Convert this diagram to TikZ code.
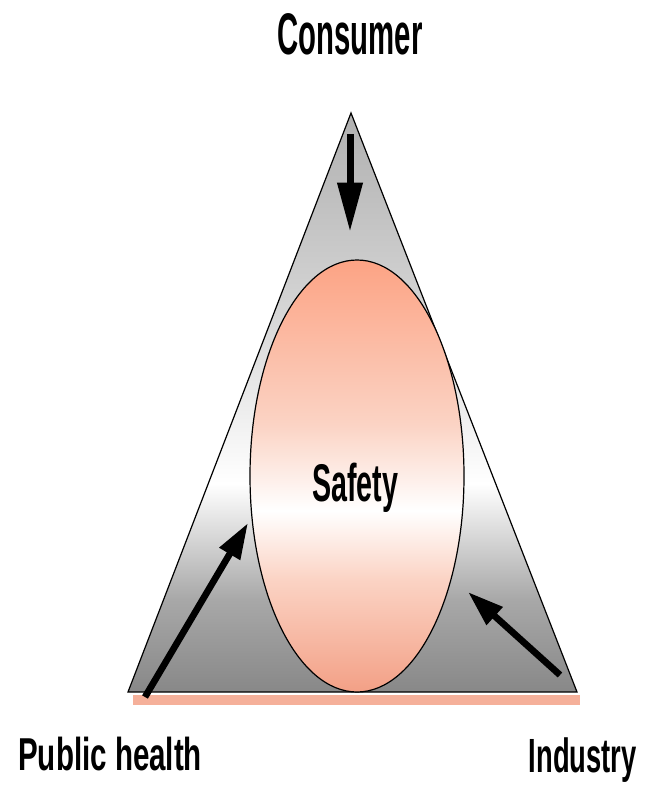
\documentclass[tikz,border=0pt]{standalone}
\usepackage{fontspec}
\usepackage{xcolor}
\usepackage{tikz}
\usetikzlibrary{arrows.meta,shapes.geometric}
\newfontfamily\topfont[FakeStretch=0.50]{Liberation Sans}
\newfontfamily\lblfont[FakeStretch=0.64]{Liberation Sans}
\newfontfamily\indfont[FakeStretch=0.57]{Liberation Sans}
\newfontfamily\midfont[FakeStretch=0.54]{Liberation Sans}
\definecolor{grayb}{HTML}{888888}
\definecolor{graym}{HTML}{A8A8A8}
\definecolor{grayl}{HTML}{D0D0D0}
\definecolor{grayt}{HTML}{B0B0B0}
\definecolor{salmb}{HTML}{F3A086}
\definecolor{salml}{HTML}{FBD3C4}
\definecolor{salmt}{HTML}{FCA384}
\definecolor{bandx}{HTML}{F5B09A}
\pgfdeclareverticalshading{trishade}{100bp}{color(0bp)=(grayb); color(25bp)=(grayb);
  color(33bp)=(graym); color(43bp)=(white); color(60bp)=(grayl); color(75bp)=(grayt); color(100bp)=(grayt)}
\pgfdeclareverticalshading{ovshade}{100bp}{color(0bp)=(salmb); color(25bp)=(salmb);
  color(38bp)=(salml); color(46bp)=(white); color(56bp)=(salml); color(75bp)=(salmt); color(100bp)=(salmt)}
\tikzset{
  tri/.style={draw=black,line width=0.9pt,shading=trishade},
  ov/.style={ellipse,draw=black,line width=0.9pt,shading=ovshade,minimum width=160.5pt,minimum height=324pt,inner sep=0pt},
  ar/.style={-{Triangle[length=37pt,width=18pt]},line width=5.25pt,black},
  ard/.style={-{Triangle[length=27pt,width=17pt]},line width=5pt,black},
  toplbl/.style={font=\topfont\bfseries\fontsize{44}{44}\selectfont,anchor=base,inner sep=0pt},
  botlbl/.style={font=\lblfont\bfseries\fontsize{34.6}{34.6}\selectfont,inner sep=0pt},
  midlbl/.style={font=\midfont\bfseries\fontsize{39.8}{39.8}\selectfont,anchor=base,inner sep=0pt}
}
\begin{document}
\begin{tikzpicture}[x=0.75pt,y=-0.75pt]
\useasboundingbox (0,0) rectangle (646,791);
% corners of the triangle
\coordinate (apex) at (351,113);
\coordinate (lft) at (128,692);
\coordinate (rgt) at (577,692);
\fill[bandx] (133,695) rectangle (580,705);
\path[tri] (apex)--(rgt)--(lft)--cycle;
\node[ov] (safety) at (357,476) {};
\node[midlbl] (safetylbl) at (355,501) {Safety};
% arrow ends
\coordinate (ctail) at (350,134);
\coordinate (ctip) at (350,232);
\coordinate (ptail) at (145,697);
\coordinate (ptip) at (248,523);
\coordinate (itail) at (560,675);
\coordinate (itip) at (468,592);
\draw[ar] (ctail)--(ctip);
\draw[ard] (ptail)--(ptip);
\draw[ard] (itail)--(itip);
\node[toplbl] (consumer) at (350,55) {Consumer};
\node[botlbl,anchor=base west] (public) at (18,770) {Public health};
\node[botlbl,anchor=base east,font=\indfont\bfseries\fontsize{36}{36}\selectfont] (industry) at (637,772) {Industry};
\end{tikzpicture}
\end{document}
